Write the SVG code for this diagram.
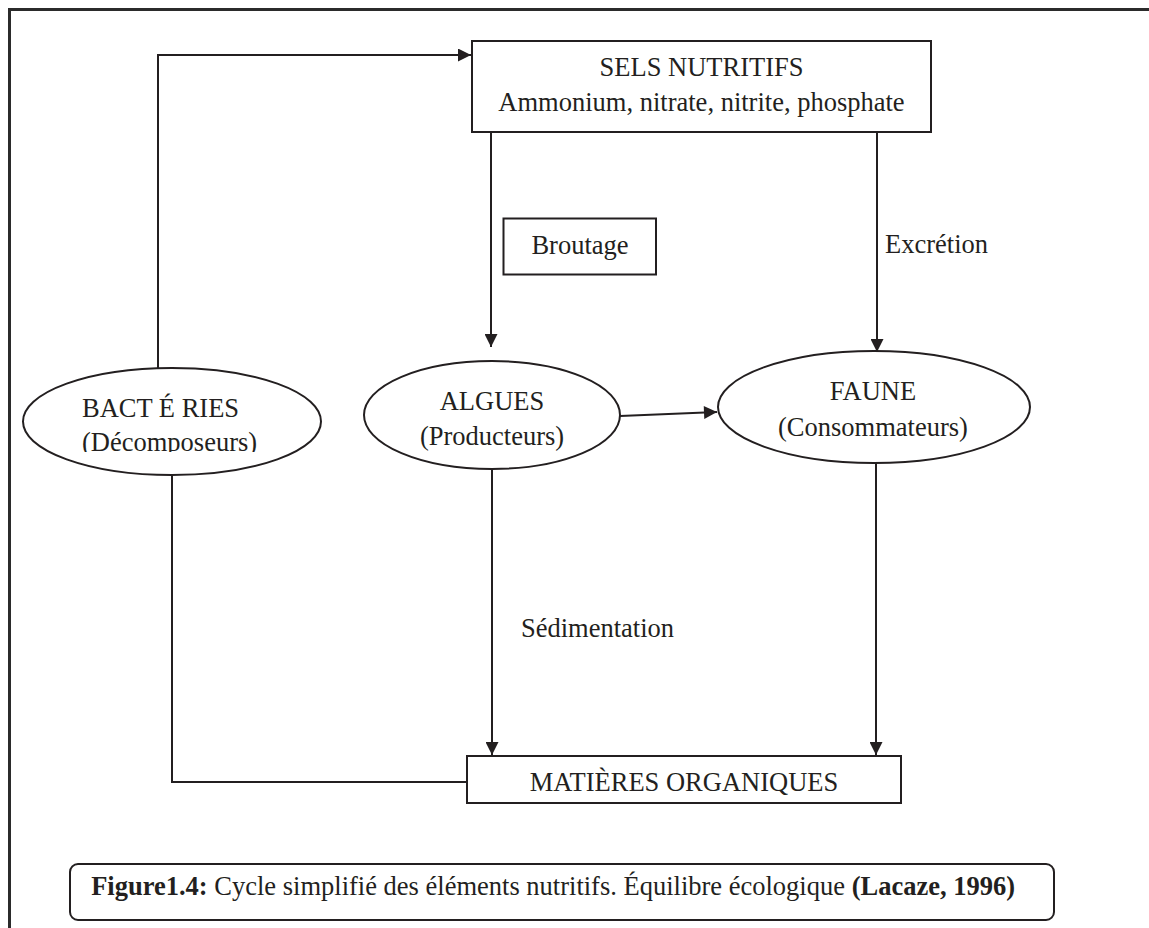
<svg xmlns="http://www.w3.org/2000/svg" width="1149" height="928" viewBox="0 0 1149 928">
<style>
text{font-family:"Liberation Serif","Times New Roman",serif;font-size:26.5px;fill:#231f20}
.box{fill:#fff;stroke:#231f20;stroke-width:2}
.ell{fill:#fff;stroke:#231f20;stroke-width:2}
.ln{fill:none;stroke:#231f20;stroke-width:2}
.mid{text-anchor:middle}
.b{font-weight:bold}
</style>
<defs>
<marker id="ah" viewBox="0 0 10 10" refX="10" refY="5" markerWidth="15" markerHeight="13" markerUnits="userSpaceOnUse" orient="auto">
<path d="M0,0 L10,5 L0,10 Z" fill="#231f20"/>
</marker>
<clipPath id="clipB"><rect x="0" y="0" width="400" height="452"/></clipPath>
</defs>
<rect width="1149" height="928" fill="#fff"/>
<path d="M9.5,928 V9.5 H1149" fill="none" stroke="#2b2b2b" stroke-width="3"/>

<g id="connectors">
<path class="ln" d="M158,368 V55 H471" marker-end="url(#ah)"/>
<path class="ln" d="M491,132 V347" marker-end="url(#ah)"/>
<path class="ln" d="M877,132 V352" marker-end="url(#ah)"/>
<path class="ln" d="M620,416 L717,412" marker-end="url(#ah)"/>
<path class="ln" d="M492,469 V755" marker-end="url(#ah)"/>
<path class="ln" d="M876,463 V755" marker-end="url(#ah)"/>
<path class="ln" d="M172,475 V782 H467"/>
<text x="885" y="253">Excrétion</text>
<text x="521" y="637">Sédimentation</text>
</g>

<g id="sels">
<rect class="box" x="472" y="41" width="459" height="91"/>
<text class="mid" x="701.5" y="76">SELS NUTRITIFS</text>
<text class="mid" x="701.5" y="110.5">Ammonium, nitrate, nitrite, phosphate</text>
</g>

<g id="broutage">
<rect class="box" x="503.5" y="218.5" width="152.5" height="56"/>
<text class="mid" x="580" y="254">Broutage</text>
</g>

<g id="bacteries">
<ellipse class="ell" cx="172" cy="421.5" rx="149" ry="53.5"/>
<text x="82" y="417">BACT É RIES</text>
<text x="82" y="451" clip-path="url(#clipB)">(Décomposeurs)</text>
</g>

<g id="algues">
<ellipse class="ell" cx="492" cy="415" rx="128" ry="54"/>
<text class="mid" x="492" y="410">ALGUES</text>
<text class="mid" x="492" y="445">(Producteurs)</text>
</g>

<g id="faune">
<ellipse class="ell" cx="874" cy="407" rx="156" ry="56"/>
<text class="mid" x="873" y="400">FAUNE</text>
<text class="mid" x="873" y="436">(Consommateurs)</text>
</g>

<g id="matieres">
<rect class="box" x="467" y="756" width="434" height="47"/>
<text class="mid" x="684" y="790.5">MATIÈRES ORGANIQUES</text>
</g>

<g id="caption">
<rect class="box" x="70" y="864" width="984" height="56" rx="8"/>
<text x="1015" y="895" style="text-anchor:end"><tspan class="b">Figure1.4:</tspan> Cycle simplifié des éléments nutritifs. Équilibre écologique <tspan class="b">(Lacaze, 1996)</tspan></text>
</g>
</svg>
